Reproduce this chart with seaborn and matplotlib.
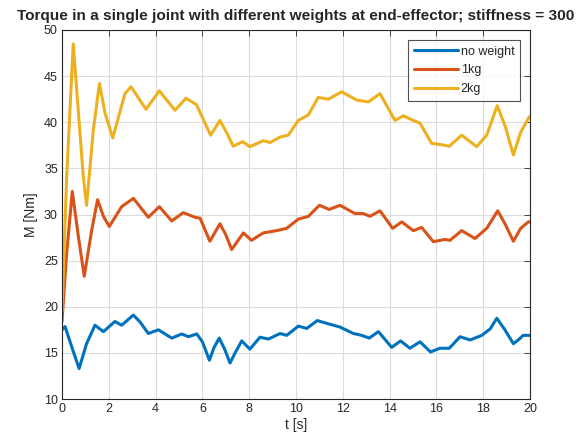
import numpy as np
import pandas as pd
import seaborn as sns
import matplotlib.pyplot as plt

# values
t_none = [0, 0.13, 0.41, 0.73, 1.05, 1.41, 1.77, 2.26, 2.55, 3.05, 3.35, 3.69, 4.12, 4.69, 5.12, 5.4, 5.76,
          6.0, 6.3, 6.5, 6.72, 6.95, 7.18, 7.4, 7.68, 8.03, 8.46, 8.82, 9.32, 9.6, 10.1, 10.46, 10.91, 11.45, 11.88,
          12.45, 12.81, 13.13, 13.52, 14.09, 14.47, 14.87, 15.3, 15.75, 16.15, 16.55, 17.01, 17.44, 17.94,
          18.3, 18.58, 18.9, 19.29, 19.5, 19.71, 20.0]
m_none = [17.5, 17.85, 15.7, 13.3, 16.0, 18.0, 17.3, 18.4, 18.0, 19.1, 18.3, 17.1, 17.5, 16.6, 17.05, 16.75, 17.05,
          16.2, 14.2, 15.6, 16.6, 15.4, 13.9, 15.0, 16.3, 15.4, 16.7, 16.5, 17.1, 16.9, 17.9, 17.65, 18.5, 18.1, 17.8,
          17.1, 16.9, 16.6, 17.3, 15.6, 16.3, 15.5, 16.2, 15.1, 15.5, 15.5, 16.75, 16.4, 16.9,
          17.6, 18.75, 17.6, 16.0, 16.4, 16.9, 16.9]

t_1kg = [0, 0.2, 0.44, 0.7, 0.95, 1.27, 1.52, 1.77, 2.02, 2.55, 3.05, 3.69, 4.16, 4.69, 5.18, 5.68, 5.9, 6.32,
         6.75, 7.0, 7.25, 7.75, 8.1, 8.6, 9.17, 9.6, 10.1, 10.53, 11.0, 11.42, 11.88, 12.52, 12.88, 13.16, 13.59,
         14.13, 14.52, 15.01, 15.37, 15.87, 16.37, 16.58, 17.08, 17.65, 18.15, 18.62, 18.95, 19.29, 19.6, 19.93,
         20.0]
m_1kg = [18.4, 25.8, 32.5, 27.6, 23.3, 28.3, 31.6, 29.8, 28.7, 30.85, 31.75, 29.7, 30.85, 29.3, 30.2, 29.7, 29.6,
         27.1, 29.0, 27.8, 26.2, 28.0, 27.2, 28.0, 28.25, 28.5, 29.5, 29.8, 31.0, 30.55, 31.0, 30.1, 30.1, 29.8,
         30.4, 28.5, 29.2, 28.25, 28.6, 27.05, 27.3, 27.2, 28.25, 27.4, 28.5, 30.4, 28.9, 27.1, 28.5, 29.2, 29.2]

t_2kg = [0, 0.2, 0.48, 0.91, 1.05, 1.34, 1.6, 1.84, 2.17, 2.69, 2.95, 3.59, 4.16, 4.83, 5.3, 5.75, 6.35, 6.75,
         7.05, 7.32, 7.72, 8.03, 8.6, 8.89, 9.32, 9.67, 10.1, 10.53, 10.95, 11.38, 11.95, 12.6, 13.09, 13.59,
         14.23, 14.59, 15.01, 15.3, 15.8, 16.15, 16.55, 17.08, 17.72, 18.15, 18.6, 18.95, 19.29, 19.6, 19.97, 20.0]
m_2kg = [19.5, 34.1, 48.5, 34.1, 31.0, 39.2, 44.2, 41.0, 38.3, 43.1, 43.85, 41.4, 43.4, 41.3, 42.6, 41.9, 38.6,
         40.2, 38.8, 37.4, 37.9, 37.35, 38.0, 37.8, 38.4, 38.6, 40.2, 40.8, 42.7, 42.5, 43.3, 42.4, 42.2, 43.1,
         40.2, 40.7, 40.2, 39.9, 37.7, 37.6, 37.4, 38.6, 37.35, 38.6, 41.8, 39.5, 36.45, 38.9, 40.6, 40.6]

labels = ["no weight", "1kg", "2kg"]
colors = ["#0072BD", "#D95319", "#EDB120"]

df = pd.concat([
    pd.DataFrame({"t": t_none, "M": m_none, "series": labels[0]}),
    pd.DataFrame({"t": t_1kg, "M": m_1kg, "series": labels[1]}),
    pd.DataFrame({"t": t_2kg, "M": m_2kg, "series": labels[2]}),
])

sns.set_style("white")
plt.rcParams['font.family'] = ['Liberation Sans', 'DejaVu Sans']

fig = plt.figure(figsize=(5.85, 4.45), dpi=100)
ax = fig.add_axes([62 / 585, 1 - 399 / 445, 468 / 585, 369 / 445])

sns.lineplot(data=df, x="t", y="M", hue="series", palette=dict(zip(labels, colors)),
             linewidth=2.2, sort=False, ax=ax)
for ln in ax.lines:
    ln.set_solid_joinstyle("round")

ax.set(xlim=(0, 20), ylim=(10, 50))
ax.set_xticks(np.arange(0, 21, 2))
ax.set_yticks(np.arange(10, 51, 5))
ax.grid(True, color="#dcdcdc", linewidth=0.8)
ax.tick_params(direction="in", top=True, right=True, length=4, width=0.6,
               labelsize=9, colors="#262626", pad=3)
for s in ax.spines.values():
    s.set_color("#262626")
    s.set_linewidth(0.8)

ax.set_xlabel("t [s]", fontsize=10, color="#262626", labelpad=2)
ax.set_ylabel("M [Nm]", fontsize=10, color="#262626", labelpad=4)
ax.set_title("Torque in a single joint with different weights at end-effector; stiffness = 300",
             fontsize=11.1, fontweight="bold", pad=7)

leg = ax.legend(loc="upper right", fontsize=9, handlelength=3.5, frameon=True, fancybox=False,
                borderaxespad=0.8, handletextpad=0.25, labelspacing=0.55, borderpad=0.45)
leg.get_frame().set_edgecolor("#262626")
leg.get_frame().set_linewidth(0.8)

plt.savefig("out.png", dpi=100)
